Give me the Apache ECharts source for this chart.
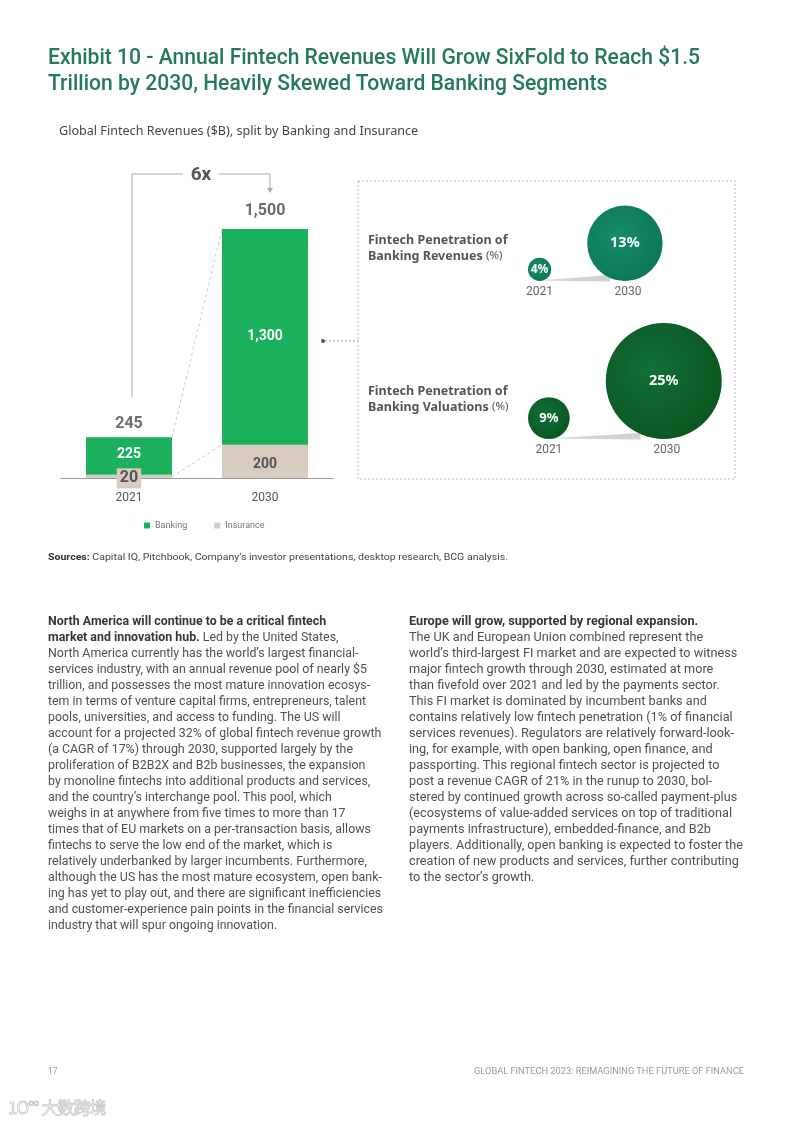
<!DOCTYPE html>
<html>
<head>
<meta charset="utf-8">
<script src="https://cdn.jsdelivr.net/npm/echarts@6/dist/echarts.min.js"></script>
<style>
  html, body { margin:0; padding:0; background:#fff; }
  body { width:793px; height:1122px; position:relative; overflow:hidden; font-family: Roboto, "Noto Sans", sans-serif; }
  #chart { position:absolute; left:0; top:0; width:793px; height:1122px; }
  .blk { position:absolute; transform-origin:0 0; z-index:2; }
  .ln { white-space:nowrap; width:max-content; }
  #title { left:48px; top:44px; font-size:22px; line-height:26px; color:#237a55; font-weight:500; }
  .col { top:613px; font-size:12.5px; line-height:16px; color:#505050; }
  .col b { color:#363636; font-weight:700; }
  #src { left:48px; top:550px; font-size:9.8px; line-height:14px; color:#444; }
  #src b { color:#333; }
  .foot { top:1065px; font-size:8.5px; line-height:12px; color:#9a9a9a; }
  #wm { position:absolute; left:8px; top:1094px; font-size:17px; color:#fff; -webkit-text-stroke:0.8px #c9c9c9; font-family:"Noto Sans CJK SC", sans-serif; z-index:2; letter-spacing:-1px;}
</style>
</head>
<body>
<div id="chart"></div>

<div id="title" class="blk">
  <div class="ln">Exhibit 10 - Annual Fintech Revenues Will Grow SixFold to Reach $1.5</div>
  <div class="ln">Trillion by 2030, Heavily Skewed Toward Banking Segments</div>
</div>

<div id="src" class="blk"><div class="ln"><b>Sources:</b> Capital IQ, Pitchbook, Company’s investor presentations, desktop research, BCG analysis.</div></div>

<div id="colL" class="blk col" style="left:48px;">
  <div class="ln"><b>North America will continue to be a critical fintech</b></div>
  <div class="ln"><b>market and innovation hub.</b> Led by the United States,</div>
  <div class="ln">North America currently has the world’s largest financial-</div>
  <div class="ln">services industry, with an annual revenue pool of nearly $5</div>
  <div class="ln">trillion, and possesses the most mature innovation ecosys-</div>
  <div class="ln">tem in terms of venture capital firms, entrepreneurs, talent</div>
  <div class="ln">pools, universities, and access to funding. The US will</div>
  <div class="ln">account for a projected 32% of global fintech revenue growth</div>
  <div class="ln">(a CAGR of 17%) through 2030, supported largely by the</div>
  <div class="ln">proliferation of B2B2X and B2b businesses, the expansion</div>
  <div class="ln">by monoline fintechs into additional products and services,</div>
  <div class="ln">and the country’s interchange pool. This pool, which</div>
  <div class="ln">weighs in at anywhere from five times to more than 17</div>
  <div class="ln">times that of EU markets on a per-transaction basis, allows</div>
  <div class="ln">fintechs to serve the low end of the market, which is</div>
  <div class="ln">relatively underbanked by larger incumbents. Furthermore,</div>
  <div class="ln">although the US has the most mature ecosystem, open bank-</div>
  <div class="ln">ing has yet to play out, and there are significant inefficiencies</div>
  <div class="ln">and customer-experience pain points in the financial services</div>
  <div class="ln">industry that will spur ongoing innovation.</div>
</div>

<div id="colR" class="blk col" style="left:409px;">
  <div class="ln"><b>Europe will grow, supported by regional expansion.</b></div>
  <div class="ln">The UK and European Union combined represent the</div>
  <div class="ln">world’s third-largest FI market and are expected to witness</div>
  <div class="ln">major fintech growth through 2030, estimated at more</div>
  <div class="ln">than fivefold over 2021 and led by the payments sector.</div>
  <div class="ln">This FI market is dominated by incumbent banks and</div>
  <div class="ln">contains relatively low fintech penetration (1% of financial</div>
  <div class="ln">services revenues). Regulators are relatively forward-look-</div>
  <div class="ln">ing, for example, with open banking, open finance, and</div>
  <div class="ln">passporting. This regional fintech sector is projected to</div>
  <div class="ln">post a revenue CAGR of 21% in the runup to 2030, bol-</div>
  <div class="ln">stered by continued growth across so-called payment-plus</div>
  <div class="ln">(ecosystems of value-added services on top of traditional</div>
  <div class="ln">payments infrastructure), embedded-finance, and B2b</div>
  <div class="ln">players. Additionally, open banking is expected to foster the</div>
  <div class="ln">creation of new products and services, further contributing</div>
  <div class="ln">to the sector’s growth.</div>
</div>

<div id="pg" class="blk foot" style="left:48px;"><div class="ln">17</div></div>
<div id="ft" class="blk foot" style="left:474px;"><div class="ln">GLOBAL FINTECH 2023: REIMAGINING THE FUTURE OF FINANCE</div></div>
<div id="wm">1O°° 大数跨境</div>

<script>
// ---------- DATA ----------
const categories = ['2021', '2030'];
const bankingValues = [225, 1300];
const insuranceValues = [20, 200];
const growthLabel = '6x';
const bubbleYears = ['2021', '2030'];
const penetrationRows = ['Banking Revenues', 'Banking Valuations'];
const revenuePenetration = [4, 13];
const valuationPenetration = [9, 25];

// ---------- TEXT FITTING ----------
function fit(id, target) {
  const el = document.getElementById(id);
  let max = 0;
  el.querySelectorAll('.ln').forEach(l => { max = Math.max(max, l.getBoundingClientRect().width); });
  if (max > 0) el.style.transform = 'scaleX(' + (target / max) + ')';
}
fit('title', 652);
fit('colL', 335);
fit('colR', 334);
fit('src', 460);
fit('ft', 270);

// ---------- CHART ----------
const FONT = 'Roboto, "Noto Sans", sans-serif';
const FONT2 = '"Noto Sans", Roboto, sans-serif';
const GREEN = '#1bb05c';
const BEIGE = '#d8cbbf';
const totals = bankingValues.map((v, i) => v + insuranceValues[i]);
const fmt = v => Number(v).toLocaleString('en-US');
const BAR_W = 86;

const rowStyle = [
  { k: 2.9,  c0: '#168d69', c1: '#0c7555' },
  { k: 2.32, c0: '#117036', c1: '#09541f' }
];
const bubbleGap = 36;

const bubbleData = [];
[revenuePenetration, valuationPenetration].forEach((arr, ri) => {
  arr.forEach((v, yi) => bubbleData.push([yi, ri, v]));
});

const chart = echarts.init(document.getElementById('chart'), null, { renderer: 'canvas' });

const option = {
  animation: false,
  textStyle: { fontFamily: FONT },
  legend: {
    data: ['Banking', 'Insurance'],
    left: 139, top: 516,
    itemWidth: 6, itemHeight: 6, itemGap: 27,
    icon: 'rect',
    textStyle: { fontSize: 9, color: '#777', fontFamily: FONT }
  },
  grid: [
    { left: 61, top: 229, width: 272, height: 249 },
    { left: 528, top: 281, width: 200, height: 158 }
  ],
  xAxis: [
    { type: 'category', gridIndex: 0, data: categories,
      axisLine: { lineStyle: { color: '#9a9a9a', width: 1 } },
      axisTick: { show: false },
      axisLabel: { color: '#555', fontSize: 12, margin: 14, fontFamily: FONT } },
    { type: 'value', gridIndex: 1, min: 0, max: 100, show: false }
  ],
  yAxis: [
    { type: 'value', gridIndex: 0, min: 0, max: 1500, show: false, splitLine: { show: false } },
    { type: 'category', gridIndex: 1, data: penetrationRows, inverse: true, boundaryGap: false, show: false }
  ],
  series: [
    { name: 'Insurance', type: 'bar', stack: 'rev', barWidth: BAR_W,
      itemStyle: { color: BEIGE },
      label: { show: true, position: 'inside', color: '#555', fontWeight: 'bold', fontSize: 14, fontFamily: FONT },
      data: insuranceValues.map(v => v < 50
        ? { value: v, label: { fontSize: 16, offset: [0, 2], backgroundColor: BEIGE, padding: [3, 3, 1, 3], color: '#555' } }
        : { value: v, label: { offset: [0, 3] } }) },
    { name: 'Banking', type: 'bar', stack: 'rev', barWidth: BAR_W,
      itemStyle: { color: GREEN },
      label: { show: true, position: 'inside', color: '#fff', fontWeight: 'bold', fontSize: 14, fontFamily: FONT,
               formatter: p => fmt(p.value) },
      data: bankingValues.map((v, i) => i === 0 ? { value: v, label: { offset: [0, -2] } } : v) },
    { name: 'Total', type: 'scatter', symbolSize: 0, silent: true,
      label: { show: true, position: 'top', distance: 10, color: '#474747', fontWeight: 'bold', fontSize: 16, fontFamily: FONT,
               formatter: p => fmt(p.value[1]) },
      data: totals.map((t, i) => ({ value: [i, t], label: { distance: i === 0 ? 5 : 10 } })) },
    { name: 'Penetration', type: 'custom', xAxisIndex: 1, yAxisIndex: 1, silent: true,
      data: bubbleData,
      renderItem: function (params, api) {
        const yi = api.value(0), ri = api.value(1), v = api.value(2);
        const vals = ri === 0 ? revenuePenetration : valuationPenetration;
        const st = rowStyle[ri];
        const base = api.coord([0, ri]);
        const r0 = vals[0] * st.k, r1 = vals[1] * st.k;
        const r = v * st.k;
        const cx = yi === 0 ? base[0] + r0 : base[0] + 2 * r0 + bubbleGap + r1;
        const cy = base[1] - r;
        const children = [];
        if (yi === 1) {
          children.push({ type: 'polygon', z2: 1,
            shape: { points: [[base[0] + r0, base[1] - 0.5], [cx - r * 0.4, base[1] - 6], [cx - r * 0.4, base[1] + 0.5]] },
            style: { fill: '#d2d2d2' } });
        }
        children.push({ type: 'circle', z2: 5, shape: { cx: cx, cy: cy, r: r },
          style: { fill: new echarts.graphic.RadialGradient(0.4, 0.4, 0.7, [
            { offset: 0, color: st.c0 }, { offset: 1, color: st.c1 }]) } });
        const fs = r > 30 ? 14.5 : (r > 15 ? 13 : 12);
        children.push({ type: 'text', z2: 10, x: cx, y: cy,
          style: { text: v + '%', fill: '#fff', font: 'bold ' + fs + 'px ' + FONT2,
                   align: 'center', verticalAlign: 'middle', textAlign: 'center', textVerticalAlign: 'middle' } });
        children.push({ type: 'text', z2: 10, x: cx + (yi === 1 ? 3 : 0), y: base[1] + 11,
          style: { text: bubbleYears[yi], fill: '#666', font: '12px ' + FONT,
                   align: 'center', verticalAlign: 'middle', textAlign: 'center', textVerticalAlign: 'middle' } });
        return { type: 'group', children: children };
      } }
  ]
};
chart.setOption(option);

// ---------- ANNOTATIONS (positioned from the axes) ----------
const P = (i, v) => chart.convertToPixel({ xAxisIndex: 0, yAxisIndex: 0 }, [i, v]);
const half = BAR_W / 2;
const a0 = P(0, totals[0]), a1 = P(1, totals[1]);
const i0 = P(0, insuranceValues[0]), i1 = P(1, insuranceValues[1]);
const mid1 = P(1, insuranceValues[1] + bankingValues[1] / 2);
const bx0 = a0[0] + 3, bx1 = a1[0] + 5;
const bTop = a1[1] - 55;
const bMid = (bx0 + bx1) / 2;
const arrowEnd = a1[1] - 36;
const GRAY = '#ababab';
const boxLeft = 358;
const richT = { b: { font: 'bold 12.5px ' + FONT2, fill: '#555', color: '#555', lineHeight: 16 },
                n: { font: '11.5px ' + FONT2, fill: '#555', color: '#555', lineHeight: 16 } };

const elements = [
  { type: 'text', x: 59, y: 131, style: { text: 'Global Fintech Revenues ($B), split by Banking and Insurance',
      fill: '#454545', font: '12.6px ' + FONT2, verticalAlign: 'middle', textVerticalAlign: 'middle' } },
  // connectors
  { type: 'line', shape: { x1: a0[0] + half, y1: a0[1], x2: a1[0] - half, y2: a1[1] },
    style: { stroke: '#c9c9c9', lineWidth: 1, lineDash: [3, 3] } },
  { type: 'line', shape: { x1: i0[0] + half, y1: i0[1] + 2, x2: i1[0] - half, y2: i1[1] },
    style: { stroke: '#c9c9c9', lineWidth: 1, lineDash: [3, 3] } },
  // 6x bracket
  { type: 'polyline', shape: { points: [[bx0, a0[1] - 40], [bx0, bTop], [bMid - 18, bTop]] },
    style: { stroke: GRAY, lineWidth: 1, fill: null } },
  { type: 'polyline', shape: { points: [[bMid + 18, bTop], [bx1, bTop], [bx1, arrowEnd - 4]] },
    style: { stroke: GRAY, lineWidth: 1, fill: null } },
  { type: 'polygon', shape: { points: [[bx1 - 3, arrowEnd - 5], [bx1 + 3, arrowEnd - 5], [bx1, arrowEnd]] },
    style: { fill: GRAY } },
  { type: 'text', x: bMid, y: bTop + 1, style: { text: growthLabel, fill: '#555', font: 'bold 19px ' + FONT,
      align: 'center', verticalAlign: 'middle', textAlign: 'center', textVerticalAlign: 'middle' } },
  // pointer to box
  { type: 'circle', shape: { cx: a1[0] + half + 15, cy: mid1[1] + 4, r: 2 }, style: { fill: '#555' } },
  { type: 'line', shape: { x1: a1[0] + half + 17, y1: mid1[1] + 4, x2: boxLeft, y2: mid1[1] + 4 },
    style: { stroke: '#9a9a9a', lineWidth: 1, lineDash: [2, 2] } },
  // dashed box
  { type: 'rect', shape: { x: boxLeft, y: 181, width: 377, height: 298 },
    style: { fill: null, stroke: '#b9b9b9', lineWidth: 1, lineDash: [2, 2] } },
  // row titles
  { type: 'text', x: 368, y: 248, style: {
      text: '{b|Fintech Penetration of}\n{b|' + penetrationRows[0] + '} {n|(%)}',
      fill: '#555', verticalAlign: 'middle', textVerticalAlign: 'middle', lineHeight: 16, rich: richT } },
  { type: 'text', x: 368, y: 399, style: {
      text: '{b|Fintech Penetration of}\n{b|' + penetrationRows[1] + '} {n|(%)}',
      fill: '#555', verticalAlign: 'middle', textVerticalAlign: 'middle', lineHeight: 16, rich: richT } }
];
chart.setOption({ graphic: { elements: elements } });
</script>
</body>
</html>
